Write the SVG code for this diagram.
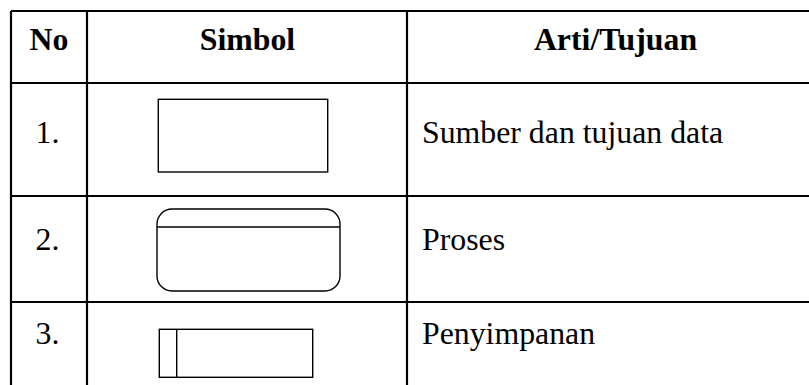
<svg xmlns="http://www.w3.org/2000/svg" width="809" height="385" viewBox="0 0 809 385">
<style>
.grid{stroke:#000;stroke-width:2.2;fill:none}
.sym{stroke:#000;stroke-width:1.4;fill:#fff}
.t{font-family:"Liberation Serif","Times New Roman",serif;font-size:31.8px;fill:#000}
.h{font-weight:bold;text-anchor:middle}
.n{text-anchor:middle}
</style>
<rect width="809" height="385" fill="#fff"/>
<g id="table-grid">
<path class="grid" d="M11 11H809M11 83H809M11 196H809M11 302H809M11 11V385M87 11V385M407 11V385"/>
</g>
<g id="header">
<text class="t h" x="49" y="50">No</text>
<text class="t h" x="247.5" y="50">Simbol</text>
<text class="t h" x="615.5" y="50">Arti/Tujuan</text>
</g>
<g id="row1">
<text class="t n" x="47.5" y="143">1.</text>
<rect id="sym-entity" class="sym" x="158.3" y="99.3" width="169.4" height="72.7"/>
<text class="t" x="422" y="143">Sumber dan tujuan data</text>
</g>
<g id="row2">
<text class="t n" x="47.5" y="250">2.</text>
<g id="sym-process">
<rect class="sym" x="157" y="209" width="183" height="82" rx="15" ry="15"/>
<line class="sym" x1="157" y1="227" x2="340" y2="227"/>
</g>
<text class="t" x="422" y="250">Proses</text>
</g>
<g id="row3">
<text class="t n" x="47.5" y="344">3.</text>
<g id="sym-store">
<rect class="sym" x="159.3" y="329.3" width="153.4" height="48"/>
<line class="sym" x1="176.7" y1="329.3" x2="176.7" y2="377.3"/>
</g>
<text class="t" x="422" y="344">Penyimpanan</text>
</g>
<g id="connectors"></g>
</svg>
